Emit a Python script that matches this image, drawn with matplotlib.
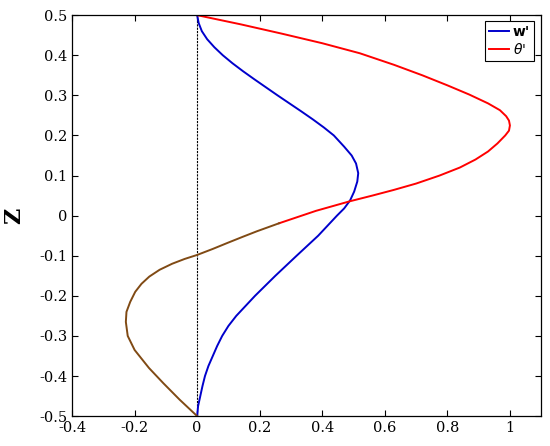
import matplotlib
matplotlib.use("Agg")
import matplotlib.pyplot as plt
from matplotlib.lines import Line2D

# w' profile (x value, z)
w_x = [0.0, 0.003, 0.01, 0.017, 0.025, 0.036, 0.05, 0.064, 0.08, 0.1, 0.125, 0.185, 0.25,
       0.318, 0.387, 0.447, 0.47, 0.489, 0.502, 0.512, 0.515, 0.508, 0.494, 0.47, 0.437,
       0.405, 0.37, 0.333, 0.295, 0.257, 0.22, 0.183, 0.147, 0.113, 0.082, 0.055, 0.032,
       0.015, 0.005, 0.0]
w_z = [-0.5, -0.475, -0.45, -0.425, -0.4, -0.375, -0.35, -0.325, -0.3, -0.275, -0.25, -0.2, -0.15,
       -0.1, -0.05, 0.0, 0.018, 0.038, 0.06, 0.085, 0.106, 0.13, 0.15, 0.172, 0.2,
       0.22, 0.24, 0.26, 0.28, 0.30, 0.32, 0.34, 0.36, 0.38, 0.40, 0.42, 0.44,
       0.46, 0.48, 0.5]

# theta' profile, lower (brown) part
tb_x = [0.0, -0.056, -0.108, -0.154, -0.2, -0.222, -0.228, -0.226, -0.214, -0.198,
        -0.178, -0.153, -0.12, -0.08, -0.04, 0.0, 0.05, 0.097, 0.145, 0.191, 0.262]
tb_z = [-0.5, -0.459, -0.418, -0.38, -0.335, -0.3, -0.265, -0.24, -0.215, -0.19,
        -0.17, -0.152, -0.135, -0.12, -0.108, -0.098, -0.083, -0.068, -0.053, -0.039, -0.019]

# theta' profile, upper (red) part
tr_x = [0.262, 0.38, 0.489, 0.56, 0.628, 0.70, 0.775, 0.84, 0.89, 0.93, 0.96, 0.985, 0.997, 1.0,
        0.997, 0.988, 0.968, 0.93, 0.87, 0.80, 0.72, 0.63, 0.52, 0.40, 0.27, 0.14, 0.0]
tr_z = [-0.019, 0.012, 0.036, 0.05, 0.064, 0.08, 0.10, 0.12, 0.14, 0.16, 0.18, 0.20, 0.212, 0.225,
        0.237, 0.248, 0.263, 0.28, 0.302, 0.325, 0.35, 0.376, 0.405, 0.43, 0.454, 0.477, 0.5]

x_ticks = [-0.4, -0.2, 0, 0.2, 0.4, 0.6, 0.8, 1]
x_labels = ["-0.4", "-0.2", "0", "0.2", "0.4", "0.6", "0.8", "1"]
y_ticks = [-0.5, -0.4, -0.3, -0.2, -0.1, 0, 0.1, 0.2, 0.3, 0.4, 0.5]
y_labels = ["-0.5", "-0.4", "-0.3", "-0.2", "-0.1", "0", "0.1", "0.2", "0.3", "0.4", "0.5"]

fig = plt.figure(figsize=(5.5, 4.46), dpi=100)
ax = fig.add_axes([0.131, 0.067, 0.853, 0.899])

ax.plot([0, 0], [-0.5, 0.5], color="black", linestyle=(0, (2, 1)), linewidth=0.8)
ax.plot(w_x, w_z, color="#0000cc", linewidth=1.4, solid_joinstyle="round")
ax.plot(tr_x, tr_z, color="#ff0000", linewidth=1.4, solid_joinstyle="round")
ax.plot(tb_x, tb_z, color="#804a14", linewidth=1.4, solid_joinstyle="round")

ax.set_xlim(-0.4, 1.1)
ax.set_ylim(-0.5, 0.5)
ax.set_xticks(x_ticks)
ax.set_xticklabels(x_labels)
ax.set_yticks(y_ticks)
ax.set_yticklabels(y_labels)
ax.tick_params(direction="in", top=True, right=True, length=4, width=0.8,
               labelsize=10.5)
for lab in ax.get_xticklabels() + ax.get_yticklabels():
    lab.set_family("DejaVu Serif")
for s in ax.spines.values():
    s.set_linewidth(0.9)

ax.set_ylabel("Z", fontsize=16, fontweight="bold", family="DejaVu Serif", labelpad=10)

handles = [Line2D([0], [0], color="#0000cc", lw=1.4),
           Line2D([0], [0], color="#ff0000", lw=1.4)]
leg = ax.legend(handles, ["w'", r"$\theta$'"], loc="upper right",
                fancybox=False, edgecolor="black", handlelength=1.4,
                handletextpad=0.3, borderpad=0.3, labelspacing=0.2,
                framealpha=1, bbox_to_anchor=(0.985, 0.985), borderaxespad=0)
leg.get_frame().set_linewidth(0.8)
t0, t1 = leg.get_texts()
t0.set_fontweight("bold"); t0.set_family("DejaVu Sans"); t0.set_fontsize(10)
t1.set_fontsize(10)

fig.savefig("out.png", dpi=100)
